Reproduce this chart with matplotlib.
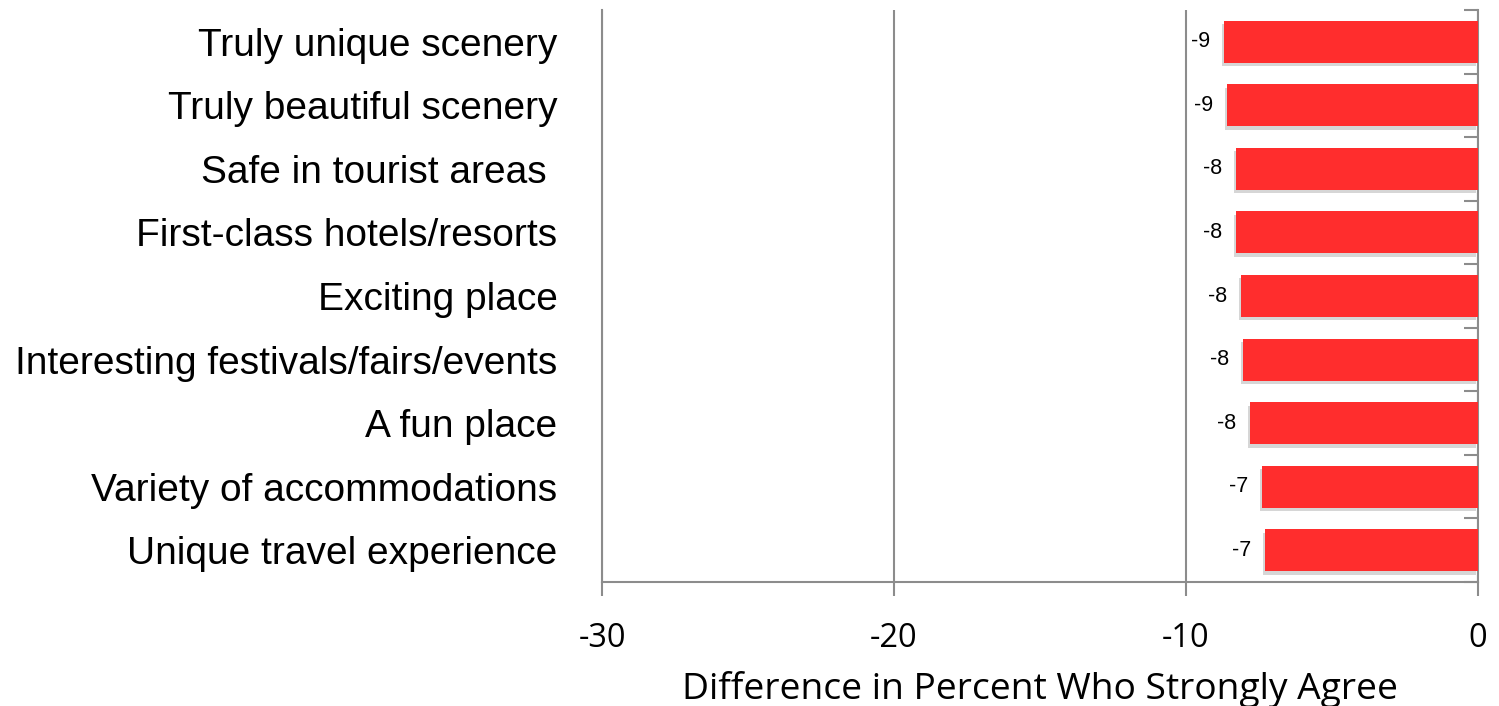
import matplotlib
matplotlib.use("Agg")
import matplotlib.pyplot as plt
import matplotlib.patheffects as pe
from matplotlib import font_manager as fm
import numpy as np

categories = [
    "Truly unique scenery",
    "Truly beautiful scenery",
    "Safe in tourist areas ",
    "First-class hotels/resorts",
    "Exciting place",
    "Interesting festivals/fairs/events",
    "A fun place",
    "Variety of accommodations",
    "Unique travel experience",
]
values = [-8.7, -8.6, -8.3, -8.3, -8.1, -8.05, -7.8, -7.4, -7.3]
xticks = [-30, -20, -10, 0]
xlabel = "Difference in Percent Who Strongly Agree"

names = {f.name for f in fm.fontManager.ttflist}
cat_font = "Liberation Sans Narrow" if "Liberation Sans Narrow" in names else "Liberation Sans"

fig = plt.figure(figsize=(14.99, 7.06), dpi=100)
ax = fig.add_axes([602/1499, 1-582/706, (1478-602)/1499, (582-10)/706])

y = np.arange(len(categories))
bars = ax.barh(y, values, height=0.66, color="#FF2D2D", edgecolor="none", zorder=3)
for b in bars:
    b.set_path_effects([pe.SimplePatchShadow(offset=(-1.5, -2.5), shadow_rgbFace="#999999", alpha=0.4), pe.Normal()])

for yi, v in zip(y, values):
    ax.annotate(f"{v:.0f}", xy=(v, yi), xytext=(-10, 0), textcoords="offset points",
                ha="right", va="center", fontsize=15.5, family="Liberation Sans", color="black")

ax.set_xlim(-30, 0)
ax.set_ylim(len(categories)-0.5, -0.5)
ax.set_xticks(xticks)
ax.set_xticklabels([str(t) for t in xticks], fontsize=23.5, family="Open Sans")
ax.set_yticks(y)
ax.set_yticklabels(categories, fontsize=28, family=cat_font)
ax.set_yticks(np.arange(len(categories)+1)-0.5, minor=True)
ax.tick_params(axis="y", which="major", length=0, pad=32)
ax.tick_params(axis="y", which="minor", left=False, right=True, direction="in", length=10, color="#8c8c8c", width=1.5)
ax.tick_params(axis="x", which="major", length=10, color="#8c8c8c", width=1.5, pad=19)

ax.grid(axis="x", color="#8c8c8c", lw=1.5, zorder=0)
ax.spines["top"].set_visible(False)
for s in ["left", "right", "bottom"]:
    ax.spines[s].set_color("#8c8c8c")
    ax.spines[s].set_linewidth(1.5)

fig.text((602+1478)/2/1499, 1-689/706, xlabel, fontsize=26.8, family="Open Sans",
         ha="center", va="center")

fig.savefig("out.png", dpi=100)
